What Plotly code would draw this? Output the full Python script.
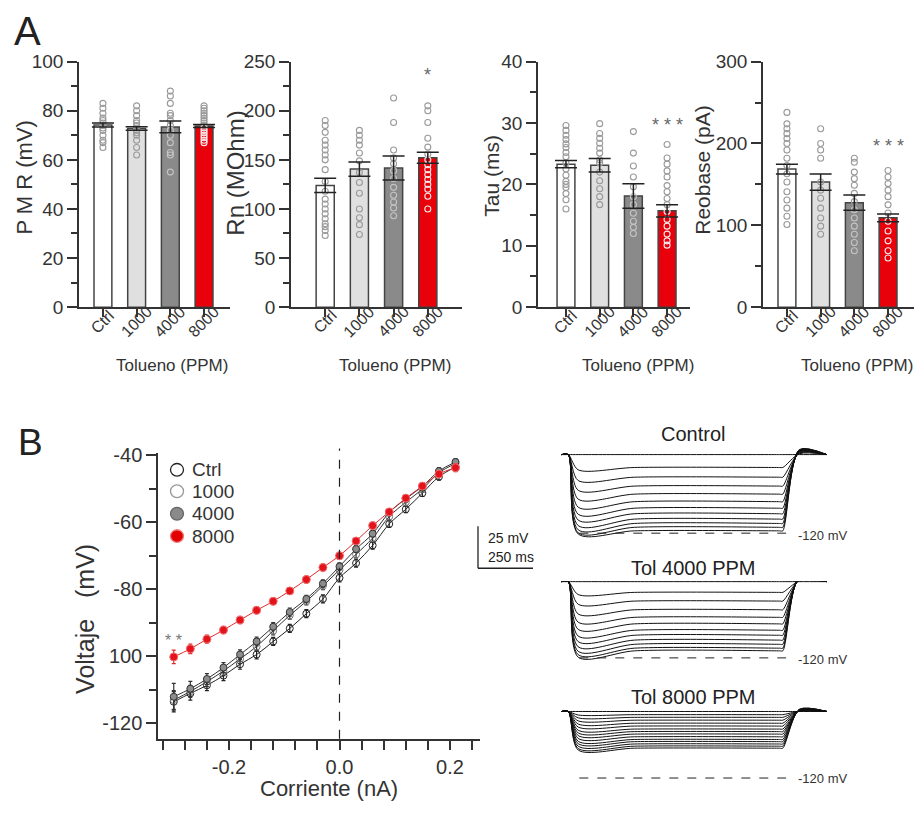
import plotly.graph_objects as go

W, H = 916, 816
FONT = "Liberation Sans, Arial, sans-serif"


def fx(p):
    return p / W


def fy(p):
    return 1 - p / H


# ---------------- Panel A data ----------------
GROUPS = ["Ctrl", "1000", "4000", "8000"]
BAR_COLORS = ["#ffffff", "#e0e0e0", "#8a8a8a", "#e8000b"]

PMR_MEAN = [74.2, 72.8, 73.4, 73.8]
PMR_SEM = [0.8, 0.7, 2.4, 0.6]
PMR_PTS = [
    [83, 81, 79, 77, 76, 75, 74, 73, 72, 70, 68, 67, 65],
    [82, 80, 78, 76, 75, 74, 73, 72, 71, 70, 68, 65, 62],
    [88, 86, 83, 79, 78, 76, 74, 72, 70, 67, 63, 62, 55],
    [82, 81, 80, 79, 78, 77, 76, 75, 74, 73, 72, 71, 70, 69, 68, 67],
]

RN_MEAN = [124.0, 140.6, 141.6, 152.1]
RN_SEM = [7.3, 7.2, 12.2, 5.6]
RN_PTS = [
    [190, 185, 178, 170, 165, 160, 155, 150, 140, 128, 118, 110, 105, 100, 95, 90, 85, 82, 78, 73],
    [180, 175, 170, 165, 157, 149, 137, 127, 116, 100, 91, 84, 74],
    [213, 188, 160, 152, 146, 139, 131, 122, 114, 107, 101, 93],
    [205, 200, 188, 172, 163, 156, 150, 145, 140, 135, 130, 125, 120, 113, 100],
]

TAU_MEAN = [23.3, 23.1, 18.1, 15.7]
TAU_SEM = [0.6, 1.1, 2.0, 1.0]
TAU_PTS = [
    [29.6, 28.8, 28.0, 27.3, 26.6, 26.0, 25.2, 24.5, 23.5, 22.5, 21.5, 20.5, 20.0, 19.5, 18.5, 17.5, 16.0],
    [29.9, 28.3, 27.5, 26.7, 25.9, 25.1, 24.0, 23.5, 22.0, 20.6, 19.3, 18.0, 16.7],
    [28.6, 25.1, 23.0, 21.2, 19.6, 18.0, 16.7, 15.3, 14.0, 13.0, 12.0],
    [26.5, 24.3, 23.3, 22.2, 21.2, 19.8, 18.8, 17.7, 16.7, 15.6, 14.3, 13.2, 11.9, 10.8, 10.1],
]

REO_MEAN = [168.7, 152.8, 127.7, 109.1]
REO_SEM = [5.9, 9.9, 9.2, 4.8]
REO_PTS = [
    [238, 224, 218, 212, 206, 200, 192, 182, 173, 163, 153, 141, 131, 121, 111, 101],
    [218, 200, 192, 182, 153, 143, 133, 121, 109, 99, 89],
    [182, 177, 165, 157, 149, 139, 129, 119, 109, 99, 89, 79, 69],
    [167, 159, 151, 143, 135, 125, 115, 105, 93, 81, 69, 60],
]

# ---------------- Panel B data (I-V) ----------------
CURRENT_NA = [-0.30, -0.27, -0.24, -0.21, -0.18, -0.15, -0.12, -0.09, -0.06,
              -0.03, 0.00, 0.03, 0.06, 0.09, 0.12, 0.15, 0.18, 0.21]
IV_CTRL = [-113.6, -111.1, -108.7, -105.8, -102.4, -99.5, -95.6, -91.7, -87.3,
           -82.9, -76.6, -72.2, -66.9, -60.5, -56.1, -51.3, -46.4, -43.5]
IV_1000 = [-113.1, -110.5, -107.6, -104.4, -100.8, -97.1, -92.4, -87.8, -83.6,
           -79.0, -74.2, -69.6, -64.7, -58.3, -54.0, -50.1, -45.2, -42.5]
IV_4000 = [-112.1, -109.7, -106.8, -103.4, -99.5, -95.6, -91.2, -86.8, -82.9,
           -78.3, -73.2, -68.0, -63.4, -57.1, -53.0, -49.3, -44.7, -42.0]
IV_8000 = [-100.2, -97.8, -94.9, -92.2, -89.2, -86.3, -83.6, -80.5, -77.1,
           -73.5, -70.0, -65.6, -61.0, -56.9, -52.8, -49.2, -45.6, -43.7]
SEM_CTRL = [3.0, 2.0, 1.6, 1.5, 1.5, 1.3, 1.2, 1.2, 1.2, 1.2, 1.2, 1.2, 1.1, 1.0, 1.0, 1.0, 1.0, 1.0]
SEM_1000 = [2.8, 1.8, 1.5, 1.4, 1.4, 1.2, 1.2, 1.1, 1.1, 1.1, 1.1, 1.0, 1.0, 1.0, 1.0, 1.0, 1.0, 1.0]
SEM_4000 = [4.0, 2.2, 1.6, 1.5, 1.4, 1.3, 1.2, 1.2, 1.1, 1.1, 1.1, 1.0, 1.0, 1.0, 1.0, 1.0, 1.0, 1.0]
SEM_8000 = [2.0, 1.4, 1.2, 1.1, 1.1, 1.0, 1.0, 1.0, 1.0, 1.0, 1.0, 1.0, 1.0, 1.0, 1.0, 1.0, 1.0, 1.2]

# ---------------- Panel B data (voltage traces, mV) ----------------
TRACE_T_MS = [-30, 0, 45, 300, 960, 975, 1050, 1175]
CTRL_SS = [-73.1, -80.8, -86.6, -91.9, -96.7, -101.2, -105.1, -108.4, -111.6, -114.2, -116.5, -118.6]
CTRL_PEAK = [-73.1, -82.2, -88.6, -94.4, -99.7, -104.5, -108.7, -112.2, -115.5, -118.0, -119.8, -120.5]
CTRL_REB = [0.0, 0.5, 0.8, 1.1, 1.4, 1.6, 1.9, 2.1, 2.3, 2.6, 2.8, 3.0]
T4_SS = [-74.5, -80.9, -86.1, -91.3, -95.8, -99.7, -103.5, -106.5, -109.4, -111.9, -114.2, -115.8]
T4_PEAK = [-74.5, -82.2, -88.0, -93.8, -98.7, -103.0, -107.0, -110.3, -113.4, -116.1, -118.1, -119.6]
T4_REB = [0.0, 0.4, 0.7, 1.0, 1.2, 1.5, 1.7, 1.9, 2.2, 2.4, 2.6, 2.8]
T8_SS = [-80.3, -82.2, -83.8, -85.5, -87.3, -89.0, -90.8, -92.3, -93.8, -95.4, -97.0, -98.3, -99.7, -101.0, -102.2]
T8_PEAK = [-80.3, -82.4, -84.1, -85.9, -87.8, -89.6, -91.5, -93.1, -94.7, -96.4, -98.1, -99.5, -101.0, -102.4, -103.3]
T8_REB = [0.0, 0.1, 0.2, 0.3, 0.4, 0.5, 0.6, 0.6, 0.7, 0.8, 0.9, 1.0, 1.1, 1.2, 1.3]
REF_MV = -120
SCALE_MV = 25
SCALE_MS = 250

fig = go.Figure()
layout = dict(
    width=W, height=H, margin=dict(l=0, r=0, t=0, b=0),
    paper_bgcolor="white", plot_bgcolor="rgba(0,0,0,0)",
    font=dict(family=FONT, color="#222"), showlegend=False,
)
annotations = []
shapes = []

AX = "#333333"


def note(x, y, text, size, color="#333", angle=0, xanchor="center", yanchor="middle", xref="paper", yref="paper"):
    annotations.append(dict(
        x=x, y=y, xref=xref, yref=yref, text=text, showarrow=False, textangle=angle,
        xanchor=xanchor, yanchor=yanchor, font=dict(size=size, color=color),
    ))


# ---------------- Panel A ----------------
panels = [
    (PMR_MEAN, PMR_SEM, PMR_PTS, 100, 20, 10, "P M R (mV)", 25, 79, 230, [-0.71, 3.77], 22, 172, 172),
    (RN_MEAN, RN_SEM, RN_PTS, 250, 50, 25, "Rn (MOhm)", 236, 291, 462, [-1.0, 4.0], 24, 168, 395),
    (TAU_MEAN, TAU_SEM, TAU_PTS, 40, 10, 5, "Tau (ms)", 492, 538, 690, [-0.83, 3.68], 21, 170, 638),
    (REO_MEAN, REO_SEM, REO_PTS, 300, 100, 50, "Reobase (pA)", 703, 763, 914, [-0.71, 3.77], 21, 164, 857),
]
TOP_PX, BOT_PX = 53, 305

for i, (means, sems, pts, ymax, dtick, minor, ytitle, tx, l, r, xr, tsize, ty, xlab) in enumerate(panels, start=1):
    xa, ya = f"x{i}", f"y{i}"
    layout[f"xaxis{i}"] = dict(
        domain=[fx(l), fx(r)], range=xr, anchor=ya, showline=True, linecolor=AX, linewidth=1.5,
        ticks="outside", ticklen=8, tickwidth=1.5, tickcolor=AX, tickvals=[0, 1, 2, 3],
        showticklabels=False, showgrid=False, zeroline=False, fixedrange=True,
    )
    layout[f"yaxis{i}"] = dict(
        domain=[fy(BOT_PX), fy(TOP_PX)], range=[0, ymax], anchor=xa, showline=True, linecolor=AX,
        linewidth=1.5, ticks="outside", ticklen=10, tickwidth=1.5, tickcolor=AX, dtick=dtick,
        tick0=0, tickfont=dict(size=19, color="#333"), showgrid=False, zeroline=False,
        minor=dict(ticks="outside", ticklen=6, tickwidth=1.5, tickcolor=AX, dtick=minor, tick0=0, showgrid=False),
        fixedrange=True,
    )
    fig.add_trace(go.Bar(
        x=[0, 1, 2, 3], y=means, width=0.53, marker=dict(color=BAR_COLORS, line=dict(color="#444", width=1.5)),
        xaxis=xa, yaxis=ya,
    ))
    for g, vals in enumerate(pts):
        if g == 3:
            cols = ["#f6eaea" if v <= means[g] else "#9a9a9a" for v in vals]
        elif g == 2:
            cols = ["#c4c4c4" if v <= means[g] else "#9a9a9a" for v in vals]
        else:
            cols = ["#9a9a9a"] * len(vals)
        fig.add_trace(go.Scatter(
            x=[g] * len(vals), y=vals, mode="markers",
            marker=dict(symbol="circle-open", size=6, color=cols, line=dict(width=1.1)),
            xaxis=xa, yaxis=ya,
        ))
    fig.add_trace(go.Scatter(
        x=[0, 1, 2, 3], y=means, mode="markers", marker=dict(size=1, opacity=0),
        error_y=dict(type="data", array=sems, symmetric=True, thickness=1.5, width=11, color="#222"),
        xaxis=xa, yaxis=ya,
    ))
    for g, name in enumerate(GROUPS):
        note(g, fy(320), name, 16, angle=-45, xref=xa)
    note(fx(tx), fy(ty), ytitle, tsize, angle=-90)
    note(fx(xlab), fy(365), "Tolueno (PPM)", 17)

# significance marks
note(3, 236, "*", 18, color="#666", xref="x2", yref="y2")
note(3, 29.6, "* * *", 18, color="#666", xref="x3", yref="y3")
note(3, 197, "* * *", 18, color="#666", xref="x4", yref="y4")

note(fx(27), fy(22), "A", 40, color="#222")
note(fx(30), fy(444), "B", 37, color="#222")

# ---------------- Panel B: I-V ----------------
IV_L, IV_R, IV_T, IV_B = 158, 480, 455, 748
layout["xaxis5"] = dict(
    domain=[fx(IV_L), fx(IV_R)], range=[-0.3285, 0.2543], anchor="y5", showline=True, linecolor=AX,
    linewidth=1.5, ticks="outside", ticklen=9, tickwidth=1.5, tickcolor=AX,
    tickvals=[-0.2, 0.0, 0.2], ticktext=["-0.2", "0.0", "0.2"], tickfont=dict(size=20, color="#333"),
    minor=dict(ticks="outside", ticklen=9, tickwidth=1.5, tickcolor=AX, dtick=0.04, tick0=0, showgrid=False),
    showgrid=False, zeroline=False, fixedrange=True,
)
layout["yaxis5"] = dict(
    domain=[fy(IV_B), fy(IV_T)], range=[-124.65, -39.4], anchor="x5", showline=True, linecolor=AX,
    linewidth=1.5, ticks="outside", ticklen=10, tickwidth=1.5, tickcolor=AX,
    tickvals=[-120, -100, -80, -60, -40], ticktext=["-120", "100", "-80", "-60", "-40"],
    tickfont=dict(size=20, color="#333"),
    minor=dict(ticks="outside", ticklen=7, tickwidth=1.5, tickcolor=AX, dtick=10, tick0=0, showgrid=False),
    showgrid=False, zeroline=False, fixedrange=True,
)

iv_series = [
    (IV_CTRL, SEM_CTRL, dict(symbol="circle-open", size=7, color="#222", line=dict(width=1)), "#222"),
    (IV_1000, SEM_1000, dict(symbol="circle-open", size=7, color="#777", line=dict(width=1)), "#333"),
    (IV_4000, SEM_4000, dict(symbol="circle", size=7, color="#8c8c8c", line=dict(width=1, color="#333")), "#333"),
    (IV_8000, SEM_8000, dict(symbol="circle", size=8, color="#e3121b", line=dict(width=1, color="#f07070")), "#e02a2a"),
]
for vals, sem, mk, lc in iv_series:
    fig.add_trace(go.Scatter(
        x=CURRENT_NA, y=vals, mode="lines+markers", line=dict(color=lc, width=1, shape="spline"),
        marker=mk, error_y=dict(type="data", array=sem, thickness=1.2, width=2, color=lc),
        xaxis="x5", yaxis="y5",
    ))

shapes.append(dict(type="line", xref="x5", yref="paper", x0=0, x1=0, y0=fy(IV_B), y1=fy(450),
                   line=dict(color="#222", width=1.2, dash="dash")))

legend_items = [
    ("Ctrl", "#ffffff", "#222", 472),
    ("1000", "#ffffff", "#999", 494),
    ("4000", "#8a8a8a", "#666", 517),
    ("8000", "#e00000", "#f08080", 540),
]
for name, fill, edge, yy in legend_items:
    rr = 6.5
    shapes.append(dict(type="circle", xref="paper", yref="paper", x0=fx(177 - rr), x1=fx(177 + rr),
                       y0=fy(yy + rr), y1=fy(yy - rr), fillcolor=fill, line=dict(color=edge, width=1.3)))
    note(fx(190), fy(yy), name, 19, xanchor="left")

note(fx(173), fy(647), "* *", 16, color="#777")
note(fx(85), fy(625), "Voltaje   (mV)", 25, angle=-90)
note(fx(329), fy(799), "Corriente (nA)", 22)

# ---------------- Panel B: voltage traces ----------------
PX_PER_MV = 1.72
PX_PER_MS = 0.22
T0_PX = 568.3
TR_L, TR_R = 470, 835
t_range = [(TR_L - T0_PX) / PX_PER_MS, (TR_R - T0_PX) / PX_PER_MS]

trace_panels = [
    ("x6", "y6", CTRL_SS, CTRL_PEAK, CTRL_REB, 445, 585, 537.0, "Control", 435, 539),
    ("x7", "y7", T4_SS, T4_PEAK, T4_REB, 586, 680, 665.0, "Tol 4000 PPM", 573, 667),
    ("x8", "y8", T8_SS, T8_PEAK, T8_REB, 712, 800, 788.3, "Tol 8000 PPM", 705, 789),
]
for k, (xa, ya, ss, peak, reb, dtop, dbot, ref_px, title, title_y, lab_y) in enumerate(trace_panels, start=6):
    y_top = REF_MV + (ref_px - dtop) / PX_PER_MV
    y_bot = REF_MV - (dbot - ref_px) / PX_PER_MV
    layout[f"xaxis{k}"] = dict(domain=[fx(TR_L), fx(TR_R)], range=t_range, anchor=ya, visible=False,
                               fixedrange=True)
    layout[f"yaxis{k}"] = dict(domain=[fy(dbot), fy(dtop)], range=[y_bot, y_top], anchor=xa, visible=False,
                               fixedrange=True)
    base = ss[0]
    for s, p, rb in zip(ss, peak, reb):
        fig.add_trace(go.Scatter(
            x=TRACE_T_MS, y=[base, base, p, s, s, s, base + rb, base], mode="lines",
            line=dict(color="#111", width=1, shape="spline", smoothing=0.8),
            xaxis=xa, yaxis=ya,
        ))
    shapes.append(dict(type="line", xref=xa, yref=ya, x0=50, x1=990, y0=REF_MV, y1=REF_MV,
                       line=dict(color="#222", width=1, dash="dash")))
    note(fx(693), fy(title_y), title, 20, color="#222")
    note(fx(796), fy(lab_y), "-120 mV", 13, xanchor="left")

# scale bar (in Control trace axes)
sb_t = (478 - T0_PX) / PX_PER_MS
sb_v = REF_MV + (537.0 - 530) / PX_PER_MV
shapes.append(dict(type="line", xref="x6", yref="y6", x0=sb_t, x1=sb_t, y0=sb_v, y1=sb_v - SCALE_MV,
                   line=dict(color="#222", width=1.3)))
shapes.append(dict(type="line", xref="x6", yref="y6", x0=sb_t, x1=sb_t + SCALE_MS, y0=sb_v - SCALE_MV,
                   y1=sb_v - SCALE_MV, line=dict(color="#222", width=1.3)))
note(fx(486), fy(542), "25 mV", 14, color="#222", xanchor="left")
note(fx(486), fy(561), "250 ms", 14, color="#222", xanchor="left")

layout["annotations"] = annotations
layout["shapes"] = shapes
fig.update_layout(**layout)
fig.write_html(
    "out.html",
    config={"displayModeBar": False},
    post_script="document.body.style.margin='0px';document.body.style.overflow='hidden';",
)
